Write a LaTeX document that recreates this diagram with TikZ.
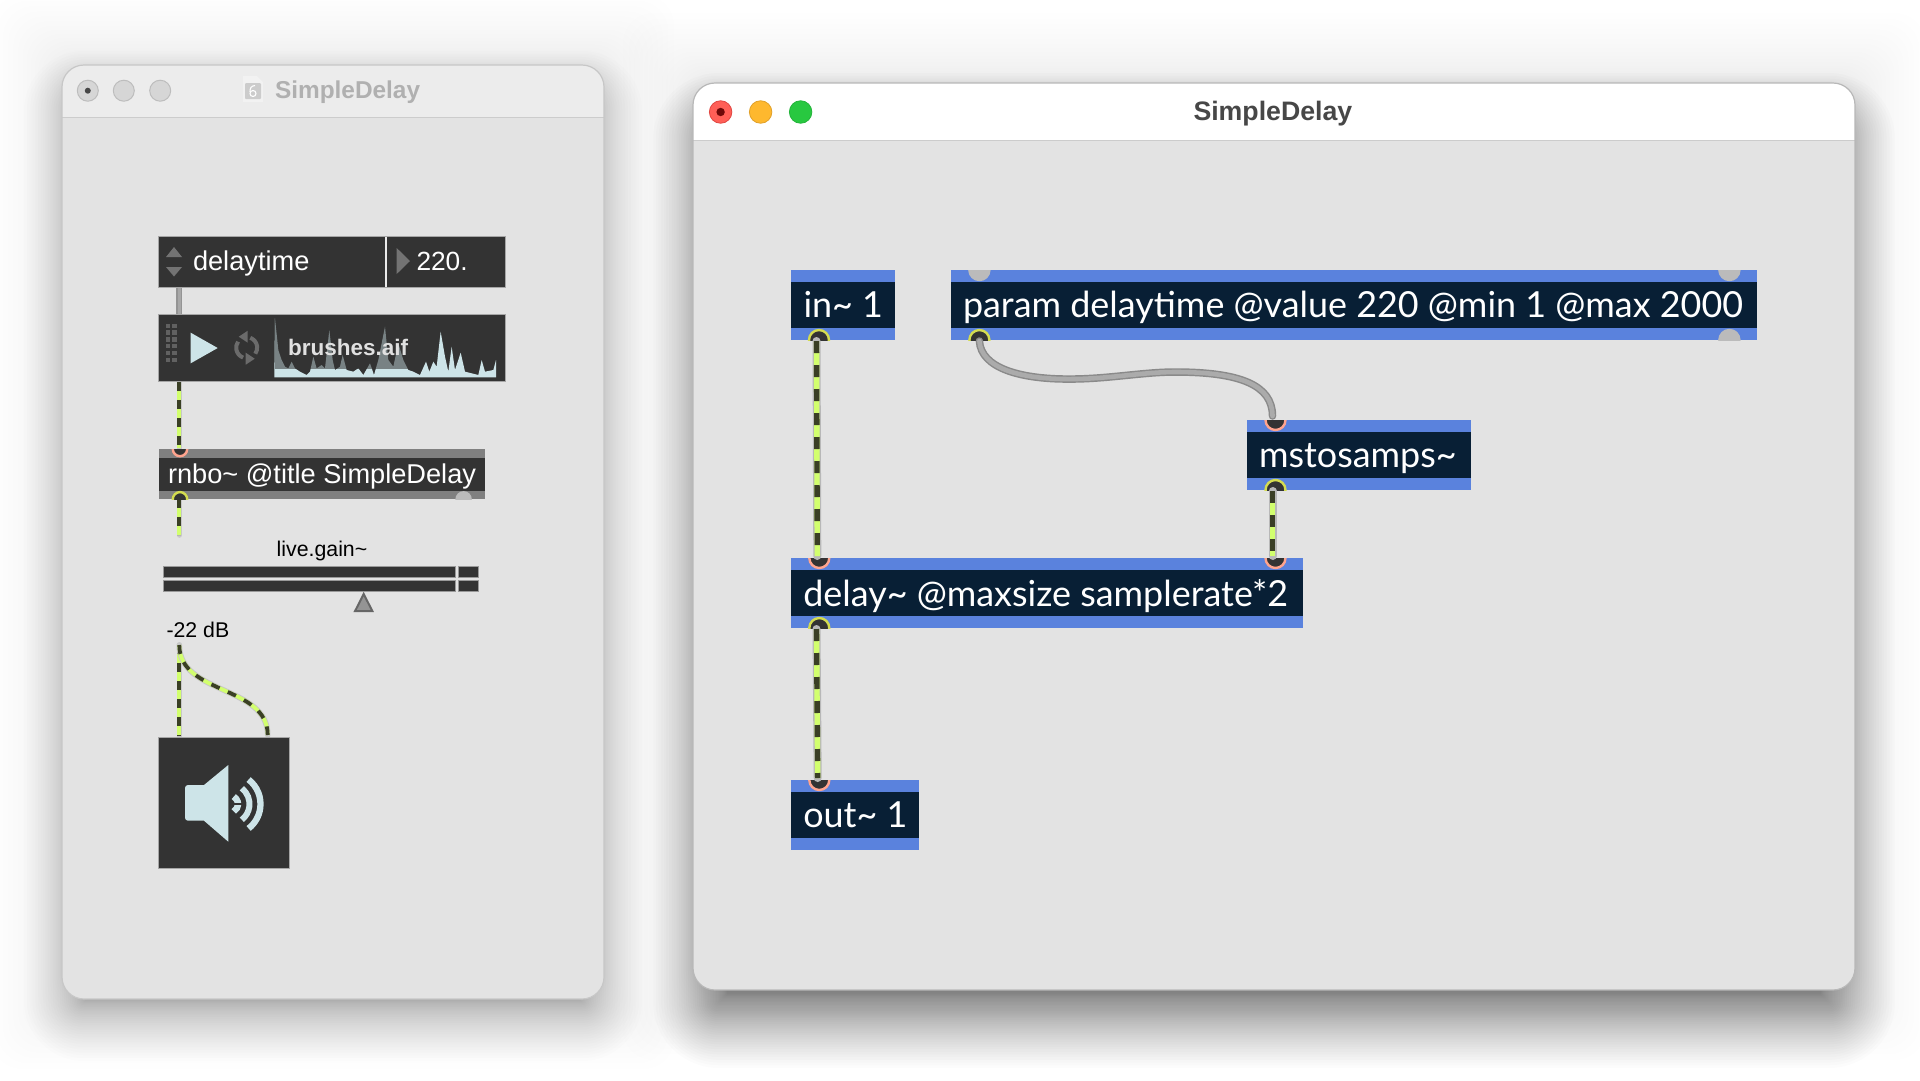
\documentclass[tikz,border=0pt]{standalone}
\usepackage{fontspec}
\setmainfont{Liberation Sans}
\newfontfamily\latofont{Lato}
\definecolor{objblue}{HTML}{5A82DD}
\definecolor{objdark}{HTML}{081F35}
\definecolor{uidark}{HTML}{333333}
\definecolor{uiband}{HTML}{808080}
\definecolor{uiice}{HTML}{CDE4E8}
\definecolor{winbody}{HTML}{E3E3E3}
\definecolor{sigdark}{HTML}{3A3F25}
\definecolor{siglight}{HTML}{D2FF6E}
\definecolor{portyel}{HTML}{D4DC50}
\definecolor{portpink}{HTML}{FFA48E}
\definecolor{portgray}{HTML}{BBBBBB}
\definecolor{lightred}{HTML}{FF5F57}
\definecolor{lightredb}{HTML}{E14641}
\definecolor{lightredc}{HTML}{6E0808}
\definecolor{lightyel}{HTML}{FEB82E}
\definecolor{lightyelb}{HTML}{E1A028}
\definecolor{lightgrn}{HTML}{28C840}
\definecolor{lightgrnb}{HTML}{23B43A}
\tikzset{
  box/.style={rectangle,inner sep=0pt,outer sep=0pt,minimum width=#1,anchor=north west},
  lbl/.style={anchor=base west,inner sep=0pt,outer sep=0pt},
  lato/.style={lbl,text=white,font=\latofont\fontsize{35.9}{35.9}\selectfont},
  helv/.style={lbl,text=white,font=\fontsize{27.2}{27.2}\selectfont},
  small/.style={lbl,text=black,font=\fontsize{21.3}{21.3}\selectfont},
  casewide/.style={draw=#1,line width=8pt,line cap=round},
  casenarrow/.style={draw=#1,line width=5.6pt,line cap=round},
  lightdot/.style={circle,line width=.8pt,minimum size=22.5pt,inner sep=0pt},
}
\newcommand{\bigsig}[1]{%
  \draw[casewide=black!28] #1;
  \draw[draw=siglight,line width=5.4pt] #1;
  \draw[draw=sigdark,line width=5.4pt,dash pattern=on 12pt off 12pt] #1;}
\newcommand{\smallsig}[1]{%
  \draw[casenarrow=black!22] #1;
  \draw[draw=siglight,line width=3.8pt] #1;
  \draw[draw=sigdark,line width=3.8pt,dash pattern=on 9pt off 9pt] #1;}
% \objbox{name}{x1}{y1}{x2}{y2}{band colour}{core colour}{inset top}{inset bottom}
\newcommand{\objbox}[9]{%
  \fill[#6] (#2,#3) rectangle (#4,#5);
  \fill[#7] (#2,#3+#8) rectangle (#4,#5-#9);
  \node[rectangle,inner sep=0pt,minimum size=0pt] (#1) at ({(#2+#4)/2},{(#3+#5)/2}) {};
}
% \portdisc{x}{y}{outline}{fill}{radius}{clip x1}{clip y1}{clip x2}{clip y2}
\newcommand{\portdisc}[9]{%
  \begin{scope}\clip (#6,#7) rectangle (#8,#9);
  \draw[draw=#3,fill=#4,line width=2.4pt] (#1,#2) circle[radius=#5];
  \end{scope}}
\begin{document}
\begin{tikzpicture}[x=1pt,y=-1pt]
\useasboundingbox (0,0) rectangle (1920,1080);
\fill[white] (0,0) rectangle (1920,1080);
% ambient shadows (soft tail: layers crowd towards the window)
\foreach \i in {0,...,24}{
  \pgfmathsetmacro{\s}{70*(1-\i/24)*(1-\i/24)}
  \fill[black,opacity=.0022,rounded corners=30pt] (62-\s,65-\s) rectangle (604+\s,999+\s);
  \fill[black,opacity=.0024,rounded corners=30pt] (693-\s,83-\s) rectangle (1855+\s,990+\s);
}
% cast shadow : left window
\foreach \i in {0,...,32}{
  \pgfmathsetmacro{\s}{-24+62*pow(1-\i/32,1.5)}
  \pgfmathsetmacro{\r}{max(1,22+\s)}
  \fill[black,opacity=.0062,rounded corners=\r pt] (62-\s,65+24-\s) rectangle (604+\s,999+24+\s);
}
% cast shadow : right window
\foreach \i in {0,...,40}{
  \pgfmathsetmacro{\s}{-30+74*pow(1-\i/40,1.5)}
  \pgfmathsetmacro{\r}{max(1,22+\s)}
  \fill[black,opacity=.0105,rounded corners=\r pt] (693+4-\s,83+34-\s) rectangle (1855-4+\s,990+34+\s);
}
% left window
\begin{scope}
  \clip[rounded corners=22pt] (62,65) rectangle (604,999);
  \fill[winbody] (62,65) rectangle (604,999);
  \fill[black!7.5] (62,65) rectangle (604,117.5);
  \draw[black!20,line width=1.4pt] (62,117.5) -- (604,117.5);
\end{scope}
\draw[black!22,line width=1.2pt,rounded corners=22pt] (62,65) rectangle (604,999);
\foreach \cx/\nm in {87.8/la,123.8/lb,160.2/lc}
  \node[circle,draw=black!26,fill=black!16,line width=1pt,minimum size=21pt,inner sep=0pt] (\nm) at (\cx,90.7) {};
\fill[black!72] (la) circle[radius=3];
% document icon
\fill[black!5] (243,76) -- (257,76) -- (263,82) -- (263,102) -- (243,102) -- cycle;
\fill[black!20,rounded corners=1pt] (245,83) rectangle (261,99);
\draw[white,line width=1.1pt] (253,93.5) circle[radius=3];
\draw[white,line width=1.1pt] (255,85.5) .. controls (251,86) and (250,88) .. (250,92);
\node[lbl,text=black!31,font=\bfseries\fontsize{24.4}{24.4}\selectfont] (ltitle) at (275,98.5) {SimpleDelay};
% attrui
\coordinate (attrOut) at (179.3,287);
\coordinate (playIn) at (179.3,314);
\coordinate (playOut) at (179.3,382);
\coordinate (rnboIn) at (179.3,448);
\coordinate (rnboOut) at (179.3,499);
\coordinate (gainL) at (179.3,535);
\coordinate (gainTop) at (179.3,645);
\coordinate (dacL) at (179.3,736);
\coordinate (dacR) at (267.7,735);
\draw[draw=black!42,line width=6pt] (attrOut) -- (playIn);
\draw[draw=black!34,line width=3.5pt] (attrOut) -- (playIn);
\smallsig{(playOut) -- (rnboIn)}
\smallsig{(rnboOut) -- (gainL)}
\smallsig{(gainTop) -- (dacL)}
\smallsig{(gainTop) .. controls (179.3,695) and (267.7,685) .. (dacR)}
\node[box=346.8pt,fill=uidark,draw=black!35,line width=.8pt,minimum height=50.3pt] (attrui) at (158.6,236.7) {};
\fill[black!8] (384.6,236.7) rectangle (386.8,287);
\fill[black!55] (174,247) -- (182,257) -- (166,257) -- cycle;
\fill[black!55] (174,276.5) -- (182,267) -- (166,267) -- cycle;
\fill[black!55] (396.7,248) -- (410,261) -- (396.7,274) -- cycle;
\node[helv] (attrname) at (193,270.5) {delaytime};
\node[helv,font=\fontsize{26.3}{26.3}\selectfont] (attrval) at (416.5,270.5) {220.};
% playlist
\node[box=346.8pt,fill=uidark,draw=black!35,line width=.8pt,minimum height=67.7pt] (playlist) at (158.6,314) {};
\foreach \gx in {165.7,172}\foreach \gy in {323.5,330.3,337.1,343.9,350.7,357.5}
  \fill[black!62] (\gx,\gy) rectangle +(4.6,4.4);
\fill[uiice] (190.7,332.7) -- (217.7,348) -- (190.7,363.3) -- cycle;
\begin{scope}[shift={(246.7pt,-347.7pt)}]
  \draw[black!58,line width=4pt] (-70:10.5) arc[start angle=-70,end angle=35,radius=10.5];
  \draw[black!58,line width=4pt] (110:10.5) arc[start angle=110,end angle=215,radius=10.5];
  \fill[black!58] (-8,-11) -- (1,-17) -- (1,-5) -- cycle;
  \fill[black!58] (8,11) -- (-1,17) -- (-1,5) -- cycle;
\end{scope}
\begin{scope}[x=.33333pt,y=-.33333pt,shift={(150pt,-300pt)}]
  \fill[uiice] (373,232) -- (375,55) -- (385,150) -- (395,180) -- (405,200) -- (415,205) -- (425,185) -- (435,205) -- (450,215) -- (470,225) -- (480,215) -- (490,170) -- (500,205) -- (515,195) -- (525,205) -- (538,90) -- (548,180) -- (555,210) -- (570,200) -- (578,165) -- (590,210) -- (610,215) -- (625,205) -- (640,225) -- (660,190) -- (672,225) -- (685,180) -- (705,80) -- (715,180) -- (730,200) -- (745,130) -- (760,180) -- (775,210) -- (790,215) -- (810,225) -- (828,185) -- (838,215) -- (850,185) -- (860,200) -- (872,95) -- (885,170) -- (895,215) -- (905,140) -- (915,210) -- (932,158) -- (945,215) -- (965,220) -- (985,225) -- (995,180) -- (1005,215) -- (1030,210) -- (1038,180) -- (1038,232) -- cycle;
  \fill[uidark,opacity=.55] (376,50) rectangle (790,208);
\end{scope}
\node[lbl,text=black!12,font=\bfseries\fontsize{22.5}{22.5}\selectfont] (playname) at (288,355) {brushes.aif};
% rnbo
\objbox{rnbo}{158.6}{449}{485}{499.3}{uiband}{uidark}{9}{8.6}
\portdisc{180}{449}{portpink}{uidark}{7.2}{158.6}{449}{485}{499.3}
\portdisc{180}{499.3}{portyel}{uidark}{7.2}{158.6}{449}{485}{499.3}
\portdisc{463.6}{499.3}{portgray}{portgray}{7}{158.6}{449}{485}{499.3}
\node[helv] (rnbotext) at (168,483) {rnbo\char`\~{} @title SimpleDelay};
% live.gain
\node[small] (gainname) at (276.7,556.5) {live.gain\char`\~};
\foreach \nm/\xa/\xb/\ya/\yb in {ga/163/455.7/566/577.7,gb/458.3/478.7/566/577.7,gc/163/455.7/580/591.3,gd/458.3/478.7/580/591.3}
  \draw[draw=black!40,fill=uidark,line width=.7pt] (\xa,\ya) rectangle (\xb,\yb) node[pos=.5,inner sep=0pt] (\nm) {};
\draw[draw=black!60,fill=black!42,line width=2pt,line join=miter] (363.7,594) -- (372.3,611) -- (355.1,611) -- cycle;
\node[small] (gainval) at (166.5,637) {-22 dB};
% dac
\node[box=130.6pt,fill=uidark,draw=black!35,line width=.8pt,minimum height=130.7pt] (dac) at (158.7,737.3) {};
\fill[uiice,rounded corners=3pt] (185,785) rectangle (208,820.7);
\fill[uiice] (204,785) -- (228.3,765) -- (228.3,841.7) -- (204,820.7) -- cycle;
\begin{scope}[shift={(229.5pt,-804pt)}]
  \draw[uiice,line width=6.3pt] (-52:31) arc[start angle=-52,end angle=52,radius=31];
  \draw[uiice,line width=6pt] (-52:20) arc[start angle=-52,end angle=52,radius=20];
  \draw[uiice,line width=6.5pt] (-60:8.5) arc[start angle=-60,end angle=60,radius=8.5];
  \draw[uidark,line width=1.2pt] (3,0) -- (13,0);
\end{scope}
% right window
\begin{scope}
  \clip[rounded corners=22pt] (693,83) rectangle (1855,990);
  \fill[winbody] (693,83) rectangle (1855,990);
  \fill[white] (693,83) rectangle (1855,140.5);
  \draw[black!20,line width=1.6pt] (693,140.5) -- (1855,140.5);
\end{scope}
\draw[black!28,line width=1.2pt,rounded corners=22pt] (693,83) rectangle (1855,990);
\node[lightdot,fill=lightred,draw=lightredb] (rclose) at (720.6,112) {};
\fill[lightredc] (rclose) circle[radius=4.2];
\node[lightdot,fill=lightyel,draw=lightyelb] (rmin) at (760.6,112) {};
\node[lightdot,fill=lightgrn,draw=lightgrnb] (rmax) at (800.6,112) {};
\node[lbl,text=black!72,font=\bfseries\fontsize{26.7}{26.7}\selectfont] (rtitle) at (1193.5,120.2) {SimpleDelay};
% right window objects
\objbox{inobj}{790.8}{270}{894.5}{340}{objblue}{objdark}{12}{12}
\objbox{param}{950.8}{270}{1756.8}{340}{objblue}{objdark}{12}{12}
\objbox{msto}{1246.6}{420}{1470.8}{490}{objblue}{objdark}{12}{12}
\objbox{delay}{790.7}{558}{1302.5}{628}{objblue}{objdark}{12}{12}
\objbox{outobj}{790.7}{780}{918.7}{850}{objblue}{objdark}{12}{12}
\portdisc{819}{340}{portyel}{uidark}{10}{790.8}{270}{894.5}{340}
\portdisc{979.4}{340}{portyel}{uidark}{10}{950.8}{270}{1756.8}{340}
\portdisc{979.4}{270}{portgray}{portgray}{10}{950.8}{270}{1756.8}{340}
\portdisc{1729.4}{270}{portgray}{portgray}{10}{950.8}{270}{1756.8}{340}
\portdisc{1729.4}{340}{portgray}{portgray}{10}{950.8}{270}{1756.8}{340}
\portdisc{1275.5}{420}{portpink}{uidark}{10}{1246.6}{420}{1470.8}{490}
\portdisc{1275.5}{490}{portyel}{uidark}{10}{1246.6}{420}{1470.8}{490}
\portdisc{819.3}{558}{portpink}{uidark}{10}{790.7}{558}{1302.5}{628}
\portdisc{819.3}{628}{portyel}{uidark}{10}{790.7}{558}{1302.5}{628}
\portdisc{1275.5}{558}{portpink}{uidark}{10}{790.7}{558}{1302.5}{628}
\portdisc{819.3}{780}{portpink}{uidark}{10}{790.7}{780}{918.7}{850}
\node[lato] (intext) at (803.5,317.5) {in\char`\~{} 1};
\node[lato] (paramtext) at (963,317.5) {param delaytime @value 220 @min 1 @max 2000};
\node[lato] (mstotext) at (1259,467.7) {mstosamps\char`\~};
\node[lato] (delaytext) at (803.3,606) {delay\char`\~{} @maxsize samplerate*2};
\node[lato] (outtext) at (803.3,827.5) {out\char`\~{} 1};
% right window connectors
\coordinate (inOutP) at (816.5,341);
\coordinate (delInA) at (817.3,556);
\coordinate (delOutP) at (816.5,629);
\coordinate (outInP) at (817.7,778);
\coordinate (mstoOutP) at (1272.5,491);
\coordinate (delInB) at (1272.5,556);
\coordinate (parOutP) at (979.4,341);
\coordinate (mstoInP) at (1272.5,416);
\bigsig{(inOutP) -- (delInA)}
\bigsig{(delOutP) -- (outInP)}
\bigsig{(mstoOutP) -- (delInB)}
\draw[draw=black!46,line width=7.5pt,line cap=round] (parOutP) .. controls (981,368) and (1020,380) .. (1075,379) .. controls (1110,378.5) and (1145,372) .. (1175,372) .. controls (1240,372) and (1272.5,385) .. (mstoInP);
\draw[draw=black!33,line width=4.6pt,line cap=round] (parOutP) .. controls (981,368) and (1020,380) .. (1075,379) .. controls (1110,378.5) and (1145,372) .. (1175,372) .. controls (1240,372) and (1272.5,385) .. (mstoInP);
\end{tikzpicture}
\end{document}
